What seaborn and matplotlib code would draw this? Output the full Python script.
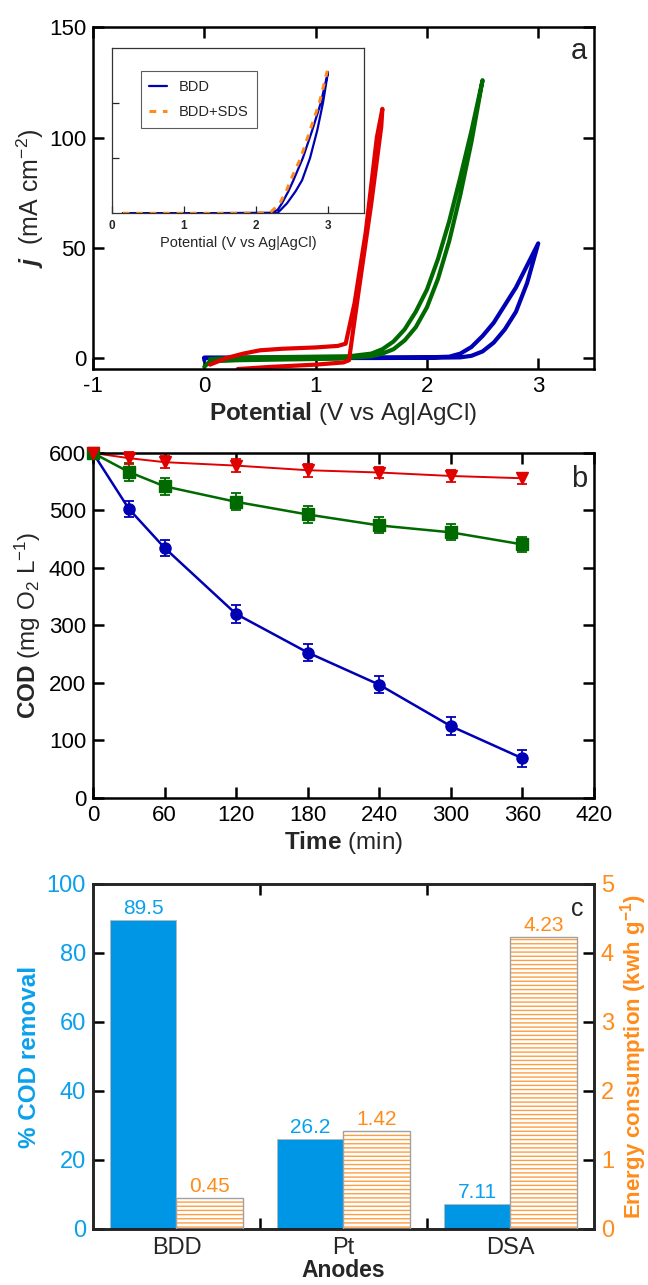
import numpy as np
import matplotlib
matplotlib.use("Agg")
import matplotlib.pyplot as plt
import seaborn as sns

sns.set_theme(style="ticks")
plt.rcParams["font.family"] = ["Liberation Sans", "DejaVu Sans"]
plt.rcParams["mathtext.fontset"] = "custom"
plt.rcParams["mathtext.rm"] = "Liberation Sans"
plt.rcParams["mathtext.bf"] = "Liberation Sans:bold"
plt.rcParams["mathtext.it"] = "Liberation Sans:italic:bold"
plt.rcParams["axes.unicode_minus"] = False
plt.rcParams["hatch.linewidth"] = 1.0

# ---- panel a: cyclic voltammograms (potential V, current mA cm-2) ----
bdd_E = [0.0, 0.0, 0.5, 1.0, 1.5, 2.0, 2.3, 2.4, 2.5, 2.6, 2.7, 2.8, 2.9, 3.0,
         2.9, 2.8, 2.7, 2.6, 2.5, 2.4, 2.3, 2.2, 2.0, 1.0, 0.0]
bdd_j = [-1.0, 0.0, 0.0, 0.0, 0.0, 0.1, 0.3, 1.0, 3.0, 7.0, 13.0, 21.0, 34.0, 52.0,
         42.0, 32.0, 24.0, 16.0, 10.0, 5.0, 2.0, 0.6, 0.3, 0.2, 0.2]
pt_E = [0.0, 0.05, 0.3, 0.8, 1.2, 1.5, 1.6, 1.7, 1.8, 1.9, 2.0, 2.1, 2.2, 2.3, 2.4, 2.5,
        2.4, 2.3, 2.2, 2.1, 2.0, 1.9, 1.8, 1.7, 1.6, 1.5, 1.3, 0.8, 0.3, 0.05]
pt_j = [-4.0, -1.5, -1.0, -0.6, -0.3, 0.8, 2.0, 4.0, 8.0, 14.0, 23.0, 36.0, 53.0, 74.0, 98.0, 126.0,
        103.0, 82.0, 62.0, 45.0, 31.0, 21.0, 13.0, 7.5, 4.0, 2.0, 0.8, 0.5, 0.2, -0.5]
dsa_E = [0.05, 0.1, 0.2, 0.35, 0.5, 0.7, 1.0, 1.2, 1.27, 1.35, 1.45, 1.55, 1.6,
         1.59, 1.5, 1.4, 1.33, 1.3, 1.25, 1.0, 0.6, 0.3]
dsa_j = [-3.0, -2.0, 0.0, 2.0, 3.5, 4.2, 4.8, 5.5, 6.5, 25.0, 57.0, 100.0, 113.0,
         105.0, 70.0, 35.0, 10.0, -1.0, -2.0, -3.0, -4.0, -5.0]

# inset
ins_bdd_E = [0.15, 1.0, 2.0, 2.2, 2.3, 2.43, 2.55, 2.64, 2.75, 2.85, 2.93, 3.0,
             2.9, 2.78, 2.65, 2.52, 2.45, 2.36, 2.3, 2.2, 1.0, 0.15]
ins_bdd_j = [0.0, 0.0, 0.0, 0.1, 0.3, 9.0, 20.0, 30.0, 50.0, 75.0, 100.0, 128.0,
             100.0, 75.0, 50.0, 30.0, 20.0, 9.0, 3.0, 0.5, 0.0, 0.0]
ins_sds_E = [0.15, 1.0, 2.0, 2.2, 2.33, 2.42, 2.48, 2.62, 2.75, 2.88, 2.99]
ins_sds_j = [0.0, 0.0, 0.0, 0.8, 9.0, 20.0, 30.0, 50.0, 75.0, 100.0, 129.0]

# ---- panel b: COD decay ----
time_min = [0, 30, 60, 120, 180, 240, 300, 360]
cod_bdd = [600, 503, 435, 320, 253, 197, 125, 69]
cod_pt = [600, 567, 542, 515, 493, 474, 462, 441]
cod_dsa = [600, 591, 584, 578, 570, 566, 560, 556]
err_bdd = [0, 14, 14, 15, 15, 15, 15, 15]
err_pt = [0, 15, 15, 15, 15, 14, 14, 13]
err_dsa = [0, 10, 11, 11, 11, 10, 10, 10]

# ---- panel c: removal and energy ----
anodes = ["BDD", "Pt", "DSA"]
cod_removal = [89.5, 26.2, 7.11]
energy = [0.45, 1.42, 4.23]

c_blue = "#0000B4"
c_green = "#006A00"
c_red = "#E10000"
bar_blue = "#0096E6"
txt_blue = "#0AA0EB"
c_orange = "#FF8C1A"

fig = plt.figure(figsize=(6.48, 12.85), dpi=100)
L, W = 0.1435, 0.773
ax_a = fig.add_axes([L, 0.7128, W, 0.266])
ax_b = fig.add_axes([L, 0.379, W, 0.2685])
ax_c = fig.add_axes([L, 0.0436, W, 0.2685])


def style(ax, size=16):
    for s in ax.spines.values():
        s.set_linewidth(1.8)
        s.set_color("black")
    ax.tick_params(direction="in", length=8, width=1.8, top=True, right=True,
                   labelsize=size, colors="black", pad=5)


# panel a
sns.lineplot(x=bdd_E, y=bdd_j, sort=False, estimator=None, color=c_blue, lw=3, ax=ax_a)
sns.lineplot(x=pt_E, y=pt_j, sort=False, estimator=None, color=c_green, lw=3, ax=ax_a)
sns.lineplot(x=dsa_E, y=dsa_j, sort=False, estimator=None, color=c_red, lw=3, ax=ax_a)
ax_a.set_xlim(-1, 3.5)
ax_a.set_ylim(-5, 150)
ax_a.set_xticks([-1, 0, 1, 2, 3])
ax_a.set_yticks([0, 50, 100, 150])
style(ax_a)
ax_a.set_xlabel(r"$\mathbf{Potential}$ (V vs Ag|AgCl)", fontsize=17.5, labelpad=2)
ax_a.set_ylabel(r"$\mathit{j}$  (mA cm$^{-2}$)", fontsize=18, labelpad=2)
ax_a.text(0.97, 0.93, "a", transform=ax_a.transAxes, fontsize=21, ha="center", va="center")

ins = fig.add_axes([0.1728, 0.834, 0.389, 0.129])
sns.lineplot(x=ins_bdd_E, y=ins_bdd_j, sort=False, estimator=None, color=c_blue, lw=1.6,
             ax=ins, label="BDD")
sns.lineplot(x=ins_sds_E, y=ins_sds_j, sort=False, estimator=None, color=c_orange, lw=2.2,
             ls=(0, (2.2, 2.2)), ax=ins, label="BDD+SDS")
ins.set_xlim(0, 3.5)
ins.set_ylim(0, 150)
ins.set_xticks([0, 1, 2, 3])
ins.set_yticks([50, 100])
ins.set_yticklabels([])
for s in ins.spines.values():
    s.set_linewidth(0.9)
    s.set_color("#333333")
ins.tick_params(direction="in", length=5, width=0.9, labelsize=8.5, pad=5)
for t in ins.get_xticklabels():
    t.set_fontweight("bold")
ins.set_xlabel("Potential (V vs Ag|AgCl)", fontsize=10.5, labelpad=3)
ins.set_ylabel("")
leg = ins.legend(loc="upper left", bbox_to_anchor=(0.085, 0.9), fontsize=10.5, frameon=True,
                 fancybox=False, handlelength=1.2, handletextpad=0.8, borderpad=0.6,
                 labelspacing=0.75)
leg.get_frame().set_edgecolor("#333333")
leg.get_frame().set_linewidth(0.8)

# panel b
for y, e, col, mk, ms, lw in [(cod_bdd, err_bdd, c_blue, "o", 8, 1.8),
                              (cod_pt, err_pt, c_green, "s", 8, 1.8),
                              (cod_dsa, err_dsa, c_red, "v", 9, 1.4)]:
    sns.lineplot(x=time_min, y=y, color=col, lw=lw, ax=ax_b, estimator=None)
    ax_b.errorbar(time_min, y, yerr=e, fmt=mk, color=col, ms=ms, capsize=3.5,
                  elinewidth=1.3, capthick=1.3, clip_on=False, zorder=5)
ax_b.set_xlim(0, 420)
ax_b.set_ylim(0, 600)
ax_b.set_xticks(range(0, 421, 60))
ax_b.set_yticks(range(0, 601, 100))
style(ax_b)
ax_b.set_xlabel(r"$\mathbf{Time}$ (min)", fontsize=17.5, labelpad=2)
ax_b.set_ylabel(r"$\mathbf{COD}$ (mg O$_2$ L$^{-1}$)", fontsize=17.5, labelpad=4)
ax_b.text(0.97, 0.925, "b", transform=ax_b.transAxes, fontsize=21, ha="center", va="center")

# panel c
pos = np.arange(len(anodes))
ax_c.bar(pos - 0.2, cod_removal, width=0.4, color=bar_blue, edgecolor="#B8B8B8",
         linewidth=0.6, zorder=2)
ax_e = ax_c.twinx()
ax_e.bar(pos + 0.2, energy, width=0.4, color="white", edgecolor="#FF9E40", hatch="----",
         linewidth=0, zorder=2)
ax_e.bar(pos + 0.2, energy, width=0.4, fill=False, edgecolor="#A0A0A0", linewidth=1.0, zorder=3)
for x, v in zip(pos, cod_removal):
    ax_c.text(x - 0.2, v + 0.6, f"{v:g}", color=txt_blue, ha="center", va="bottom", fontsize=15)
for x, v in zip(pos, energy):
    ax_e.text(x + 0.2, v + 0.03, f"{v:g}", color=c_orange, ha="center", va="bottom", fontsize=15)
ax_c.set_xlim(-0.5, 2.5)
ax_c.set_ylim(0, 100)
ax_e.set_ylim(0, 5)
ax_c.set_yticks(range(0, 101, 20))
ax_e.set_yticks(range(0, 6))
ax_c.set_xticks([0.5, 1.5])
ax_c.set_xticklabels([])
ax_c.set_xticks(pos, minor=True)
ax_c.set_xticklabels(anodes, minor=True)
style(ax_c, 17)
ax_c.tick_params(right=False)
ax_c.tick_params(axis="y", labelcolor=txt_blue)
ax_c.tick_params(axis="x", which="minor", length=0, labelsize=17, pad=6)
for s in ax_e.spines.values():
    s.set_linewidth(1.8)
ax_e.tick_params(direction="in", length=8, width=1.8, labelsize=17, labelcolor=c_orange,
                 colors="black", pad=5)
for t in ax_e.get_yticklabels():
    t.set_color(c_orange)
ax_c.set_xlabel("Anodes", fontsize=16.5, fontweight="bold", labelpad=0)
ax_c.set_ylabel("% COD removal", fontsize=17.5, fontweight="bold", color=txt_blue, labelpad=4)
ax_e.set_ylabel(r"Energy consumption (kwh g$^{\mathbf{-1}}$)", fontsize=16, fontweight="bold",
                color=c_orange, labelpad=3)
ax_c.text(0.966, 0.928, "c", transform=ax_c.transAxes, fontsize=18, ha="center", va="center")

fig.savefig("out.png", dpi=100)
